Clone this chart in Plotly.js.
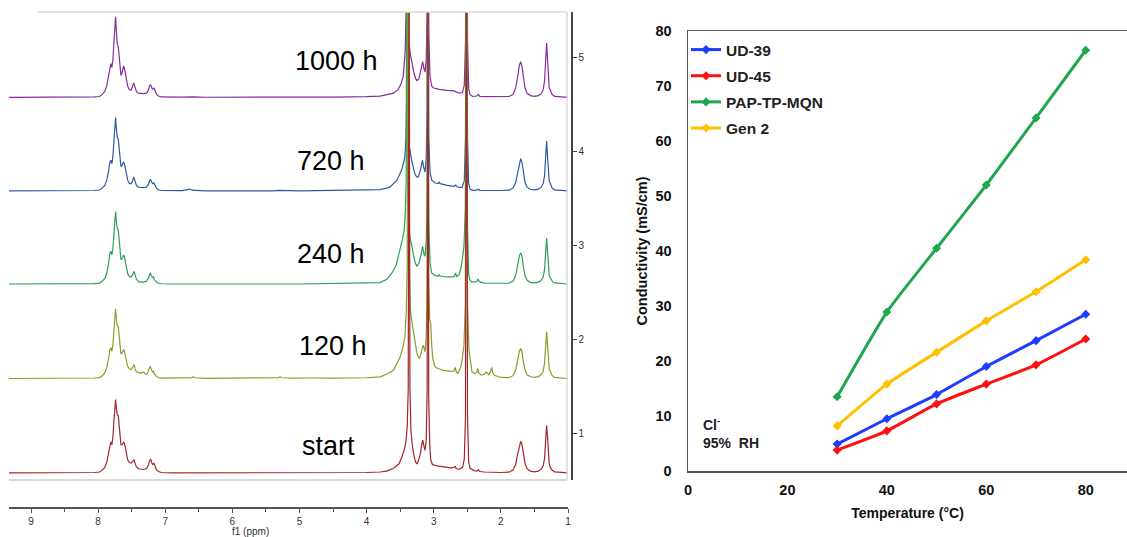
<!DOCTYPE html>
<html><head><meta charset="utf-8">
<script src="https://cdn.plot.ly/plotly-3.0.1.min.js"></script>
<style>html,body{margin:0;padding:0;background:#fff}#chart{width:1127px;height:537px}</style>
</head><body><div id="chart"></div><script>
// ---------- Left panel: 1H NMR spectra, [ppm, intensity above own baseline] ----------
const spectrumLabels = ['start', '120 h', '240 h', '720 h', '1000 h'];
const spectrumBaselines = [0.575, 1.58, 2.585, 3.575, 4.57];
const spectrumColors = ['#a3262a', '#86a02a', '#2f9e57', '#2e5aa0', '#862d9c'];

const specStart = [
 [9.33,0],[8.5,0],[8.05,0.005],[7.98,0.01],[7.94,0.03],[7.90,0.06],[7.87,0.12],[7.845,0.21],[7.825,0.31],[7.81,0.33],[7.795,0.30],[7.78,0.38],[7.765,0.55],[7.752,0.72],[7.74,0.78],[7.728,0.68],[7.715,0.62],[7.70,0.61],[7.685,0.50],[7.67,0.35],[7.66,0.30],[7.645,0.30],[7.63,0.32],[7.615,0.33],[7.60,0.29],[7.58,0.20],[7.56,0.14],[7.535,0.11],[7.51,0.105],[7.49,0.12],[7.466,0.14],[7.45,0.105],[7.43,0.065],[7.40,0.045],[7.36,0.037],[7.32,0.037],[7.28,0.048],[7.25,0.085],[7.232,0.133],[7.217,0.146],[7.20,0.106],[7.185,0.09],[7.168,0.102],[7.15,0.064],[7.13,0.032],[7.10,0.016],[7.06,0.005],[6.9,0],
 [5.5,0],[4.5,0.002],[4.0,0.005],[3.8,0.01],[3.7,0.02],[3.6,0.05],[3.52,0.095],[3.48,0.16],[3.44,0.245],[3.415,0.33],[3.395,0.5],[3.38,0.9],[3.368,6],[3.355,0.9],[3.34,0.45],[3.32,0.3],[3.30,0.2],[3.27,0.115],[3.25,0.095],[3.23,0.13],[3.20,0.2],[3.18,0.3],[3.163,0.35],[3.145,0.28],[3.13,0.24],[3.112,0.35],[3.098,0.9],[3.086,6],[3.075,0.8],[3.06,0.3],[3.045,0.14],[3.02,0.09],[2.95,0.075],[2.85,0.065],[2.75,0.055],[2.70,0.06],[2.68,0.07],[2.665,0.045],[2.62,0.04],[2.57,0.06],[2.545,0.15],[2.527,0.6],[2.512,6],[2.497,0.6],[2.48,0.12],[2.46,0.05],[2.40,0.025],[2.355,0.02],[2.335,0.035],[2.315,0.015],[2.25,0.01],[2.0,0.005],[1.88,0.008],[1.82,0.03],[1.78,0.09],[1.75,0.2],[1.725,0.3],[1.705,0.337],[1.685,0.3],[1.665,0.2],[1.64,0.1],[1.61,0.045],[1.56,0.02],[1.50,0.012],[1.44,0.02],[1.40,0.04],[1.37,0.075],[1.35,0.15],[1.335,0.3],[1.318,0.507],[1.306,0.4],[1.295,0.2],[1.28,0.1],[1.27,0.07],[1.26,0.05],[1.24,0.03],[1.20,0.012],[1.12,0.005],[1.0,0]
];

const spec120h = [
 [9.33,0],[8.5,0],[8.05,0.005],[7.98,0.01],[7.94,0.03],[7.90,0.06],[7.87,0.12],[7.845,0.21],[7.825,0.31],[7.81,0.327],[7.795,0.29],[7.78,0.36],[7.765,0.52],[7.752,0.68],[7.74,0.742],[7.728,0.63],[7.715,0.56],[7.70,0.553],[7.685,0.45],[7.67,0.3],[7.66,0.26],[7.645,0.27],[7.63,0.3],[7.62,0.309],[7.605,0.28],[7.58,0.19],[7.56,0.13],[7.535,0.1],[7.51,0.096],[7.49,0.115],[7.465,0.149],[7.45,0.11],[7.43,0.07],[7.40,0.064],[7.36,0.055],[7.335,0.065],[7.32,0.067],[7.30,0.05],[7.285,0.043],[7.265,0.06],[7.245,0.1],[7.225,0.131],[7.205,0.09],[7.19,0.07],[7.175,0.075],[7.16,0.045],[7.13,0.02],[7.10,0.008],[7.06,0.003],[6.75,0.003],[6.61,0.01],[6.58,0.016],[6.55,0.008],[6.4,0.002],[5.40,0.002],[5.31,0.01],[5.29,0.016],[5.27,0.008],[5.1,0.003],[4.93,0.004],[4.89,0.011],[4.85,0.005],
 [4.5,0.003],[4.0,0.008],[3.8,0.018],[3.70,0.045],[3.60,0.088],[3.50,0.23],[3.46,0.33],[3.43,0.444],[3.41,0.7],[3.395,1.2],[3.382,6],[3.37,1.5],[3.355,0.9],[3.345,0.71],[3.325,0.6],[3.30,0.479],[3.275,0.35],[3.25,0.266],[3.215,0.213],[3.19,0.26],[3.17,0.33],[3.155,0.354],[3.14,0.31],[3.13,0.284],[3.112,0.45],[3.098,1.0],[3.088,6],[3.075,1.0],[3.06,0.62],[3.045,0.585],[3.03,0.35],[3.015,0.213],[2.99,0.14],[2.97,0.117],[2.87,0.088],[2.75,0.075],[2.70,0.08],[2.68,0.117],[2.665,0.07],[2.64,0.055],[2.60,0.12],[2.58,0.19],[2.55,0.35],[2.53,0.8],[2.512,6],[2.497,0.8],[2.475,0.3],[2.46,0.231],[2.445,0.12],[2.43,0.071],[2.39,0.05],[2.36,0.065],[2.345,0.106],[2.33,0.06],[2.29,0.035],[2.245,0.045],[2.22,0.071],[2.20,0.05],[2.18,0.043],[2.155,0.07],[2.137,0.117],[2.12,0.06],[2.10,0.035],[2.0,0.011],[1.88,0.01],[1.82,0.03],[1.78,0.09],[1.75,0.19],[1.725,0.29],[1.705,0.319],[1.685,0.28],[1.665,0.18],[1.64,0.09],[1.61,0.04],[1.56,0.018],[1.50,0.012],[1.44,0.02],[1.40,0.04],[1.37,0.075],[1.35,0.16],[1.335,0.3],[1.318,0.497],[1.306,0.36],[1.295,0.19],[1.28,0.1],[1.27,0.088],[1.255,0.06],[1.24,0.035],[1.20,0.012],[1.12,0.005],[1.0,0]
];

const spec240h = [
 [9.33,0],[8.5,0],[8.05,0.005],[7.98,0.01],[7.94,0.03],[7.90,0.06],[7.87,0.12],[7.845,0.22],[7.825,0.33],[7.81,0.347],[7.795,0.31],[7.78,0.38],[7.765,0.55],[7.752,0.71],[7.74,0.772],[7.728,0.66],[7.715,0.59],[7.70,0.574],[7.685,0.46],[7.67,0.3],[7.66,0.26],[7.645,0.27],[7.63,0.3],[7.62,0.309],[7.605,0.28],[7.58,0.18],[7.56,0.11],[7.535,0.08],[7.51,0.075],[7.49,0.095],[7.465,0.134],[7.45,0.1],[7.43,0.05],[7.40,0.025],[7.38,0.021],[7.32,0.02],[7.28,0.03],[7.25,0.065],[7.235,0.1],[7.225,0.117],[7.205,0.085],[7.19,0.07],[7.175,0.075],[7.16,0.045],[7.13,0.02],[7.10,0.008],[7.06,0.003],[6.9,0],
 [5.0,0],[4.5,0.003],[4.0,0.01],[3.8,0.015],[3.70,0.05],[3.62,0.12],[3.56,0.2],[3.50,0.36],[3.465,0.48],[3.44,0.574],[3.425,0.75],[3.41,1.1],[3.397,6],[3.385,1.0],[3.37,0.6],[3.35,0.47],[3.33,0.42],[3.30,0.3],[3.275,0.22],[3.25,0.19],[3.22,0.22],[3.195,0.3],[3.18,0.37],[3.165,0.40],[3.15,0.33],[3.13,0.295],[3.112,0.45],[3.098,1.0],[3.088,6],[3.075,0.7],[3.056,0.22],[3.03,0.117],[2.98,0.09],[2.93,0.085],[2.92,0.1],[2.905,0.085],[2.80,0.075],[2.70,0.075],[2.675,0.117],[2.66,0.08],[2.62,0.1],[2.595,0.17],[2.575,0.26],[2.55,0.4],[2.53,0.8],[2.512,6],[2.497,0.6],[2.48,0.1],[2.46,0.04],[2.43,0.021],[2.36,0.025],[2.34,0.053],[2.32,0.025],[2.25,0.01],[2.0,0.008],[1.88,0.01],[1.82,0.03],[1.78,0.09],[1.75,0.2],[1.725,0.3],[1.705,0.33],[1.685,0.29],[1.665,0.19],[1.64,0.09],[1.61,0.04],[1.56,0.018],[1.50,0.012],[1.44,0.02],[1.40,0.04],[1.37,0.075],[1.35,0.15],[1.335,0.3],[1.318,0.49],[1.306,0.36],[1.295,0.18],[1.28,0.09],[1.265,0.07],[1.25,0.05],[1.23,0.025],[1.20,0.012],[1.12,0.005],[1.0,0]
];

const spec720h = [
 [9.33,0],[8.5,0],[8.05,0.005],[7.98,0.01],[7.94,0.03],[7.90,0.06],[7.87,0.12],[7.845,0.21],[7.825,0.31],[7.81,0.327],[7.795,0.29],[7.78,0.37],[7.765,0.55],[7.752,0.72],[7.74,0.78],[7.728,0.66],[7.715,0.57],[7.70,0.55],[7.685,0.45],[7.67,0.3],[7.66,0.26],[7.645,0.27],[7.63,0.3],[7.62,0.31],[7.605,0.28],[7.58,0.18],[7.56,0.115],[7.535,0.08],[7.51,0.075],[7.49,0.1],[7.47,0.149],[7.455,0.115],[7.43,0.06],[7.40,0.04],[7.38,0.038],[7.32,0.035],[7.28,0.04],[7.25,0.07],[7.235,0.105],[7.22,0.124],[7.20,0.09],[7.185,0.078],[7.17,0.085],[7.155,0.055],[7.13,0.028],[7.10,0.013],[7.06,0.005],[6.75,0.003],[6.66,0.012],[6.63,0.02],[6.60,0.008],[6.4,0.002],[5.40,0.002],[5.34,0.008],[5.32,0.012],[5.30,0.006],
 [5.0,0],[4.5,0.003],[4.0,0.008],[3.8,0.015],[3.70,0.03],[3.65,0.043],[3.55,0.114],[3.48,0.22],[3.45,0.3],[3.43,0.362],[3.415,0.55],[3.405,0.95],[3.398,6],[3.388,0.9],[3.37,0.5],[3.35,0.38],[3.33,0.327],[3.305,0.25],[3.28,0.18],[3.255,0.15],[3.23,0.149],[3.20,0.22],[3.18,0.31],[3.168,0.327],[3.15,0.25],[3.13,0.2],[3.112,0.35],[3.098,0.9],[3.088,6],[3.075,0.6],[3.056,0.2],[3.03,0.114],[2.98,0.085],[2.93,0.08],[2.92,0.093],[2.905,0.078],[2.80,0.06],[2.70,0.05],[2.675,0.062],[2.655,0.045],[2.58,0.035],[2.545,0.11],[2.527,0.55],[2.512,6],[2.497,0.55],[2.48,0.08],[2.46,0.02],[2.42,0.007],[2.36,0.008],[2.335,0.018],[2.315,0.007],[2.25,0.005],[2.0,0.005],[1.88,0.008],[1.82,0.03],[1.78,0.09],[1.75,0.2],[1.725,0.31],[1.705,0.345],[1.685,0.3],[1.665,0.2],[1.64,0.09],[1.61,0.04],[1.56,0.018],[1.50,0.012],[1.44,0.02],[1.40,0.04],[1.37,0.08],[1.35,0.16],[1.335,0.32],[1.318,0.532],[1.306,0.38],[1.295,0.19],[1.28,0.1],[1.265,0.085],[1.255,0.07],[1.24,0.035],[1.20,0.012],[1.12,0.005],[1.0,0]
];

const spec1000h = [
 [9.33,0],[8.5,0],[8.05,0.005],[7.98,0.01],[7.94,0.03],[7.90,0.065],[7.87,0.13],[7.845,0.23],[7.825,0.34],[7.81,0.36],[7.795,0.32],[7.78,0.40],[7.765,0.58],[7.752,0.78],[7.74,0.857],[7.728,0.70],[7.715,0.57],[7.70,0.54],[7.685,0.44],[7.67,0.28],[7.66,0.234],[7.645,0.26],[7.63,0.32],[7.62,0.336],[7.605,0.30],[7.58,0.19],[7.56,0.12],[7.535,0.085],[7.51,0.078],[7.49,0.11],[7.47,0.155],[7.455,0.12],[7.43,0.065],[7.40,0.045],[7.38,0.043],[7.32,0.04],[7.28,0.045],[7.25,0.08],[7.235,0.12],[7.22,0.138],[7.20,0.1],[7.185,0.088],[7.17,0.102],[7.155,0.065],[7.13,0.032],[7.10,0.015],[7.06,0.005],[6.75,0.003],[6.66,0.008],[6.63,0.012],[6.60,0.006],[6.4,0.002],
 [5.5,0],[4.5,0.003],[4.0,0.008],[3.8,0.015],[3.70,0.03],[3.60,0.045],[3.53,0.085],[3.49,0.14],[3.455,0.22],[3.44,0.33],[3.425,0.5],[3.413,0.9],[3.403,6],[3.39,0.9],[3.375,0.6],[3.345,0.447],[3.32,0.35],[3.30,0.275],[3.27,0.2],[3.25,0.18],[3.22,0.2],[3.20,0.26],[3.18,0.33],[3.165,0.38],[3.15,0.32],[3.13,0.27],[3.112,0.4],[3.098,0.9],[3.088,6],[3.075,0.7],[3.056,0.22],[3.03,0.12],[3.0,0.1],[2.92,0.085],[2.80,0.075],[2.70,0.07],[2.62,0.045],[2.575,0.05],[2.545,0.13],[2.527,0.6],[2.512,6],[2.497,0.6],[2.48,0.1],[2.46,0.03],[2.42,0.01],[2.36,0.015],[2.335,0.032],[2.315,0.012],[2.25,0.008],[2.0,0.008],[1.88,0.01],[1.82,0.03],[1.78,0.1],[1.75,0.22],[1.725,0.34],[1.705,0.38],[1.685,0.33],[1.665,0.22],[1.64,0.1],[1.61,0.045],[1.56,0.02],[1.50,0.012],[1.44,0.02],[1.40,0.04],[1.37,0.08],[1.35,0.17],[1.335,0.35],[1.318,0.58],[1.306,0.42],[1.295,0.2],[1.28,0.1],[1.265,0.085],[1.255,0.07],[1.24,0.035],[1.20,0.012],[1.12,0.005],[1.0,0]
];

const spectra = [specStart, spec120h, spec240h, spec720h, spec1000h];
const nmrTickVals = [1, 2, 3, 4, 5, 6, 7, 8, 9];
const stackTickVals = [1, 2, 3, 4, 5];

// ---------- Right panel: conductivity vs temperature ----------
const temperatures = [30, 40, 50, 60, 70, 80];
const ud39 = [4.9, 9.5, 13.9, 19.0, 23.7, 28.5];
const ud45 = [3.8, 7.3, 12.2, 15.8, 19.3, 24.0];
const papTpMqn = [13.5, 28.9, 40.5, 52.0, 64.2, 76.5];
const gen2 = [8.2, 15.8, 21.6, 27.3, 32.6, 38.4];
const condNames = ['UD-39', 'UD-45', 'PAP-TP-MQN', 'Gen 2'];
const condSeries = [ud39, ud45, papTpMqn, gen2];
const condColors = ['#1f3dff', '#ff1010', '#1fa64f', '#ffc000'];
const tempTicks = [0, 20, 40, 60, 80];

const FONT = 'Arial, "Liberation Sans", sans-serif';
const W = 1127, H = 537;
const px = v => v / W, py = v => 1 - v / H;

const traces = [];
// draw 1000 h first so 'start' is on top
for (let i = spectra.length - 1; i >= 0; i--) {
  const s = spectra[i];
  traces.push({
    type: 'scatter', mode: 'lines', xaxis: 'x', yaxis: 'y',
    x: s.map(p => p[0]),
    y: s.map(p => spectrumBaselines[i] + p[1]),
    line: {color: spectrumColors[i], width: 1.2},
    name: spectrumLabels[i], showlegend: false, hoverinfo: 'skip'
  });
}
condSeries.forEach((vals, i) => {
  traces.push({
    type: 'scatter', mode: 'lines+markers', xaxis: 'x2', yaxis: 'y2',
    x: temperatures, y: vals, name: condNames[i], legendgroup: 'g' + i,
    line: {color: condColors[i], width: 3, shape: 'spline', smoothing: 0.5},
    marker: {color: condColors[i], size: 7, symbol: 'diamond'}
  });
});

const annotations = [];
const labelPos = [[300, 445.6], [297, 345.6], [295, 253.6], [295, 160.6], [293, 60.6]];
spectrumLabels.forEach((t, i) => {
  annotations.push({xref: 'paper', yref: 'paper', x: px(labelPos[i][0]), y: py(labelPos[i][1]),
    xanchor: 'left', yanchor: 'middle', text: t, showarrow: false,
    font: {family: FONT, size: 27, color: '#000'}});
});
annotations.push({xref: 'paper', yref: 'paper', x: px(250), y: py(531), xanchor: 'center', yanchor: 'middle',
  text: 'f1 (ppm)', showarrow: false, font: {family: FONT, size: 10, color: '#333'}});
annotations.push({xref: 'paper', yref: 'paper', x: px(701), y: py(433), xanchor: 'left', yanchor: 'middle', align: 'left',
  text: 'Cl<sup>-</sup><br>95%\u00a0 RH', showarrow: false, font: {family: FONT, size: 14, color: '#222', weight: 700}});

const frameColor = '#dadada';
const shapes = [
  {type: 'line', xref: 'paper', yref: 'paper', x0: px(38), x1: px(567), y0: py(12), y1: py(12), line: {color: frameColor, width: 1.5}},
  {type: 'line', xref: 'paper', yref: 'paper', x0: px(9), x1: px(567), y0: py(480), y1: py(480), line: {color: frameColor, width: 2}},
  {type: 'line', xref: 'paper', yref: 'paper', x0: px(567), x1: px(567), y0: py(480), y1: py(12), line: {color: frameColor, width: 1.5}}
];

const layout = {
  width: W, height: H, margin: {l: 0, r: 0, t: 0, b: 0},
  paper_bgcolor: '#fff', plot_bgcolor: 'rgba(0,0,0,0)',
  font: {family: FONT},
  showlegend: true,
  legend: {x: px(686), y: py(33), xanchor: 'left', yanchor: 'top', bgcolor: 'rgba(0,0,0,0)',
    font: {family: FONT, size: 15.5, color: '#222', weight: 700}, itemwidth: 30, tracegroupgap: 3, traceorder: 'grouped'},
  xaxis: {domain: [px(9), px(568)], range: [9.328, 1.0], anchor: 'free', position: py(508),
    showline: true, linecolor: '#555', linewidth: 2, ticks: 'outside', ticklen: 4, tickwidth: 1, tickcolor: '#555',
    tickvals: nmrTickVals, tickfont: {family: FONT, size: 10, color: '#333'}, showgrid: false, zeroline: false,
    minor: {dtick: 0.5, tick0: 0.5, ticks: 'outside', ticklen: 3, tickcolor: '#555', showgrid: false}},
  yaxis: {domain: [py(480), py(12)], range: [0.5, 5.479], side: 'right', anchor: 'free', position: px(571),
    showline: true, linecolor: '#444', linewidth: 1.5, ticks: 'outside', ticklen: 4, tickcolor: '#444',
    tickvals: stackTickVals, tickfont: {family: FONT, size: 10, color: '#333'}, showgrid: false, zeroline: false},
  xaxis2: {domain: [px(688), 1], range: [0, 88.3], anchor: 'y2', showline: true, mirror: true, linecolor: '#555', linewidth: 1.5,
    ticks: '', tickvals: tempTicks, tickfont: {family: FONT, size: 14.5, color: '#111', weight: 700}, ticklabelstandoff: 5,
    showgrid: false, zeroline: false,
    title: {text: 'Temperature (°C)', font: {family: FONT, size: 14, color: '#111', weight: 700}, standoff: 11}},
  yaxis2: {domain: [py(471), py(31)], range: [0, 80], anchor: 'x2', showline: true, linecolor: '#555', linewidth: 1.5,
    ticks: '', dtick: 10, tickfont: {family: FONT, size: 14.5, color: '#111', weight: 700}, ticklabelstandoff: 12,
    showgrid: false, zeroline: false,
    title: {text: 'Conductivity (mS/cm)', font: {family: FONT, size: 14.5, color: '#111', weight: 700}, standoff: 4}},
  annotations: annotations,
  shapes: shapes
};

Plotly.newPlot('chart', traces, layout, {displayModeBar: false, staticPlot: true});
</script></body></html>
